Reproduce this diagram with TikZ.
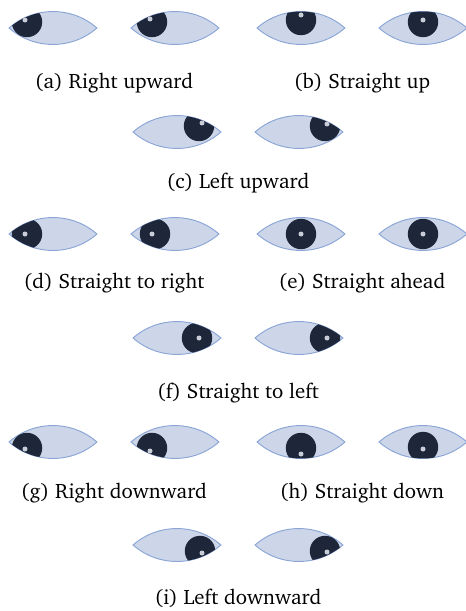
\documentclass[tikz,border=0pt]{standalone}
\usepackage[T1]{fontenc}
\usepackage{charter}
\usepackage{xcolor}
\usepackage{tikz}
\usetikzlibrary{positioning}

\definecolor{sclera}{RGB}{205,214,233}
\definecolor{rim}{RGB}{138,165,214}
\definecolor{iris}{RGB}{30,39,58}
\definecolor{glint}{RGB}{200,205,216}

\tikzset{
	eyeball/.style={fill=sclera,draw=rim,line width=0.45pt},
	pupil/.style={fill=iris},
	spot/.style={fill=glint},
	caption/.style={inner sep=0pt,font=\normalsize}
}

% \eye{centre}{pupil x}{pupil y}{glint x}{glint y}
\newcommand{\eye}[5]{%
	\begin{scope}[shift={(#1)}]
		\draw[eyeball] (-44,0) arc (131.1:48.9:66.9) arc (-48.9:-131.1:66.9) -- cycle;
		\clip (-44,0) arc (131.1:48.9:66.9) arc (-48.9:-131.1:66.9) -- cycle;
		\fill[pupil] (#2,#3) circle (15.2);
		\fill[spot] (#4,#5) circle (2.5);
	\end{scope}}

\begin{document}
\begin{tikzpicture}[x=0.48pt,y=0.48pt]
	\useasboundingbox (0,0) rectangle (466,-611);
	
	\coordinate (a1) at (53,-28);   \coordinate (a2) at (175,-28);
	\coordinate (b1) at (301,-28);  \coordinate (b2) at (423,-28);
	\coordinate (c1) at (177,-132); \coordinate (c2) at (299,-132);
	\coordinate (d1) at (53,-234);  \coordinate (d2) at (175,-234);
	\coordinate (e1) at (301,-234); \coordinate (e2) at (423,-234);
	\coordinate (f1) at (177,-338); \coordinate (f2) at (299,-338);
	\coordinate (g1) at (53,-442);  \coordinate (g2) at (175,-442);
	\coordinate (h1) at (301,-442); \coordinate (h2) at (423,-442);
	\coordinate (i1) at (177,-545); \coordinate (i2) at (299,-545);
	
	\eye{a1}{-26}{6}{-28}{8}    \eye{a2}{-23}{6}{-25}{9}
	\eye{b1}{0}{8}{0}{13}       \eye{b2}{0}{6}{0}{8}
	\eye{c1}{22}{6}{25}{9}      \eye{c2}{26}{6}{28}{8}
	\eye{d1}{-26}{0}{-28}{0}    \eye{d2}{-20}{0}{-23}{0}
	\eye{e1}{0}{0}{0}{0}        \eye{e2}{0}{0}{0}{0}
	\eye{f1}{20}{0}{22}{0}      \eye{f2}{26}{0}{28}{0}
	\eye{g1}{-26}{-6}{-28}{-7}  \eye{g2}{-23}{-6}{-25}{-9}
	\eye{h1}{0}{-6}{0}{-12}     \eye{h2}{0}{-5}{0}{-7}
	\eye{i1}{23}{-6}{25}{-8}    \eye{i2}{26}{-6}{28}{-7}
	
	\node[caption] (capa) at (114,-83) {(a) Right upward};
	\node[caption] (capb) at (362,-83) {(b) Straight up};
	\node[caption] (capc) at (238,-183) {(c) Left upward};
	\node[caption] (capd) at (114,-283) {(d) Straight to right};
	\node[caption] (cape) at (362,-283) {(e) Straight ahead};
	\node[caption] (capf) at (238,-393) {(f) Straight to left};
	\node[caption] (capg) at (114,-493) {(g) Right downward};
	\node[caption] (caph) at (362,-493) {(h) Straight down};
	\node[caption] (capi) at (238,-598) {(i) Left downward};
\end{tikzpicture}
\end{document}
